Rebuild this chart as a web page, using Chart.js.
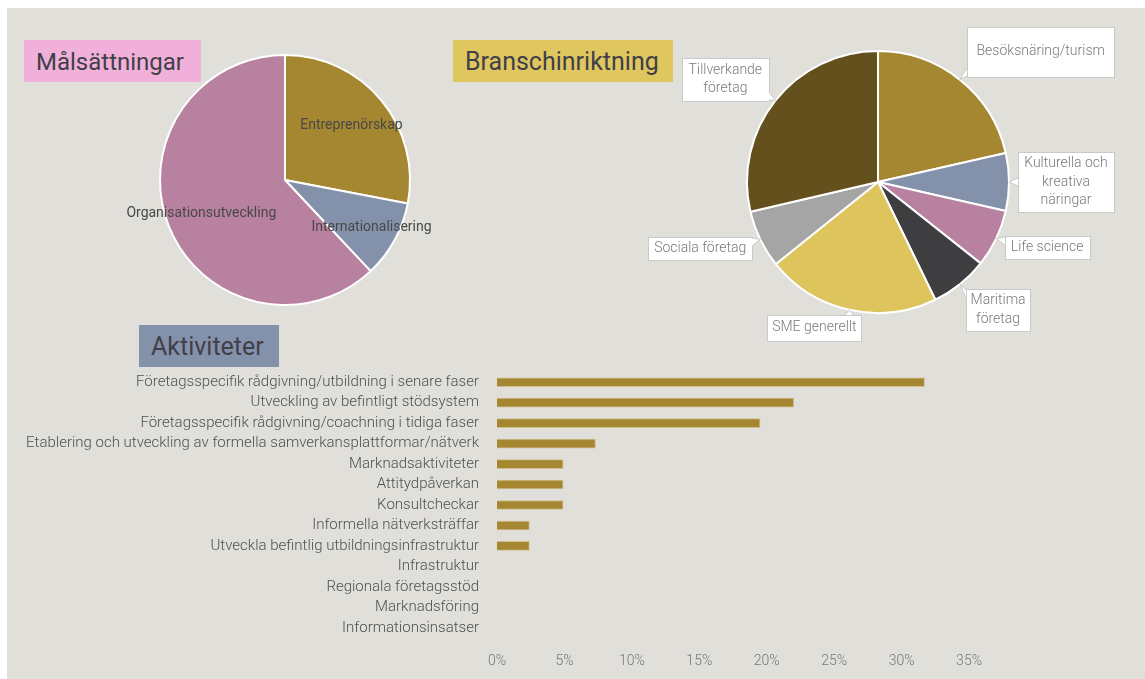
<!DOCTYPE html>
<html>
<head>
<meta charset="utf-8">
<script src="https://cdn.jsdelivr.net/npm/chart.js@4.4.0/dist/chart.umd.min.js"></script>
<style>
  body { margin: 0; background: #fff; width: 1145px; height: 679px; overflow: hidden; font-family: Roboto, sans-serif; }
  #panel { position: absolute; left: 7px; top: 8px; right: 0; bottom: 0; background: #e0dfda; }
  .title { position: absolute; height: 42px; line-height: 44px; font-size: 25px; color: #404048; padding-left: 12px; box-sizing: border-box; }
  canvas { position: absolute; }
</style>
</head>
<body>
<div id="panel"></div>
<div class="title" style="left:24px;top:40px;width:177px;background:#f0b0da;font-size:24px">Målsättningar</div>
<div class="title" style="left:453px;top:40px;width:220px;background:#dfc65e">Branschinriktning</div>
<div class="title" style="left:139px;top:325px;width:140px;background:#8491ab">Aktiviteter</div>
<canvas id="goalPie" width="350" height="280" style="left:100px;top:40px"></canvas>
<canvas id="branchPie" width="505" height="335" style="left:640px;top:15px"></canvas>
<canvas id="activityBar" width="997" height="334" style="left:0;top:345px"></canvas>
<script>
// Målsättningar (share, %)
const goalLabels = ["Entreprenörskap", "Internationalisering", "Organisationsutveckling"];
const goalValues = [28, 10, 62];
const goalColors = ["#a58631", "#8391ab", "#b7819f"];

// Branschinriktning (share, %)
const branchLabels = [
  "Besöksnäring/turism",
  ["Kulturella och", "kreativa", "näringar"],
  "Life science",
  ["Maritima", "företag"],
  "SME generellt",
  "Sociala företag",
  ["Tillverkande", "företag"]
];
const branchValues = [21.4, 7.1, 7.1, 7.1, 21.4, 7.1, 28.6];
const branchColors = ["#a58631", "#8391ab", "#b7819f", "#3e3e40", "#dec45c", "#a5a5a5", "#63501d"];

// Aktiviteter (share, %)
const activityLabels = [
  "Företagsspecifik rådgivning/utbildning i senare faser",
  "Utveckling av befintligt stödsystem",
  "Företagsspecifik rådgivning/coachning i tidiga faser",
  "Etablering och utveckling av formella samverkansplattformar/nätverk",
  "Marknadsaktiviteter",
  "Attitydpåverkan",
  "Konsultcheckar",
  "Informella nätverksträffar",
  "Utveckla befintlig utbildningsinfrastruktur",
  "Infrastruktur",
  "Regionala företagsstöd",
  "Marknadsföring",
  "Informationsinsatser"
];
const activityValues = [31.7, 22.0, 19.5, 7.3, 4.9, 4.9, 4.9, 2.4, 2.4, 0, 0, 0, 0];
const activityTicks = [0, 5, 10, 15, 20, 25, 30, 35];

Chart.defaults.font.family = "Roboto, sans-serif";
Chart.defaults.animation = false;

// labels drawn inside the slices of the first pie
const insideLabels = {
  id: "insideLabels",
  afterDatasetsDraw(chart, args, opts) {
    const ctx = chart.ctx;
    const meta = chart.getDatasetMeta(0);
    ctx.save();
    ctx.font = "14px Roboto";
    ctx.fillStyle = "#484848";
    ctx.textAlign = "center";
    ctx.textBaseline = "middle";
    meta.data.forEach((arc, i) => {
      const mid = (arc.startAngle + arc.endAngle) / 2;
      const r = arc.outerRadius * opts.radius[i];
      ctx.fillText(chart.data.labels[i], arc.x + Math.cos(mid) * r, arc.y + Math.sin(mid) * r);
    });
    ctx.restore();
  }
};

// white callout boxes for the second pie
const callouts = {
  id: "callouts",
  afterDatasetsDraw(chart, args, opts) {
    const ctx = chart.ctx;
    const meta = chart.getDatasetMeta(0);
    ctx.save();
    ctx.font = "300 14px Roboto";
    ctx.textAlign = "center";
    ctx.textBaseline = "middle";
    meta.data.forEach((arc, i) => {
      const mid = (arc.startAngle + arc.endAngle) / 2;
      const ax = arc.x + Math.cos(mid) * arc.outerRadius;
      const ay = arc.y + Math.sin(mid) * arc.outerRadius;
      const b = opts.boxes[i];
      const cx = ax + b.dx, cy = ay + b.dy;
      const x0 = Math.round(cx - b.w / 2), y0 = Math.round(cy - b.h / 2);
      ctx.fillStyle = "#fff";
      ctx.strokeStyle = "#c9c9c9";
      ctx.lineWidth = 1;
      ctx.fillRect(x0, y0, b.w, b.h);
      ctx.strokeRect(x0 + 0.5, y0 + 0.5, b.w, b.h);

      // tail
      const px = Math.min(Math.max(ax, x0), x0 + b.w);
      const py = Math.min(Math.max(ay, y0), y0 + b.h);
      let p1, p2;
      if (Math.abs(ax - px) >= Math.abs(ay - py)) {
        const y1 = Math.min(Math.max(py - 4, y0 + 1), y0 + b.h - 9);
        p1 = [px, y1]; p2 = [px, y1 + 8];
      } else {
        const x1 = Math.min(Math.max(px - 4, x0 + 1), x0 + b.w - 9);
        p1 = [x1, py]; p2 = [x1 + 8, py];
      }
      ctx.beginPath();
      ctx.moveTo(p1[0], p1[1]);
      ctx.lineTo(ax, ay);
      ctx.lineTo(p2[0], p2[1]);
      ctx.closePath();
      ctx.fill();
      ctx.beginPath();
      ctx.moveTo(p1[0], p1[1]);
      ctx.lineTo(ax, ay);
      ctx.lineTo(p2[0], p2[1]);
      ctx.stroke();

      const lines = [].concat(chart.data.labels[i]);
      ctx.fillStyle = "#7a7a7a";
      lines.forEach((t, k) => {
        ctx.fillText(t, cx, cy + (k - (lines.length - 1) / 2) * 18.5);
      });
    });
    ctx.restore();
  }
};

new Chart(document.getElementById("goalPie"), {
  type: "pie",
  data: {
    labels: goalLabels,
    datasets: [{ data: goalValues, backgroundColor: goalColors, borderColor: "#fff", borderWidth: 2, hoverOffset: 0 }]
  },
  options: {
    responsive: false,
    layout: { padding: { left: 59, right: 39, top: 14, bottom: 14 } },
    plugins: {
      legend: { display: false },
      tooltip: { enabled: false },
      insideLabels: { radius: [0.69, 0.79, 0.72] }
    }
  },
  plugins: [insideLabels]
});

new Chart(document.getElementById("branchPie"), {
  type: "pie",
  data: {
    labels: branchLabels,
    datasets: [{ data: branchValues, backgroundColor: branchColors, borderColor: "#fff", borderWidth: 2, hoverOffset: 0 }]
  },
  options: {
    responsive: false,
    layout: { padding: { left: 106, right: 135, top: 35, bottom: 36 } },
    plugins: {
      legend: { display: false },
      tooltip: { enabled: false },
      callouts: {
        boxes: [
          { dx: 81, dy: -28, w: 147, h: 50 },
          { dx: 57, dy: 0, w: 96, h: 60 },
          { dx: 51, dy: 9, w: 85, h: 23 },
          { dx: 38, dy: 26, w: 64, h: 42 },
          { dx: -35, dy: 18, w: 94, h: 26 },
          { dx: -60, dy: 9, w: 104, h: 23 },
          { dx: -50, dy: -21, w: 87, h: 43 }
        ]
      }
    }
  },
  plugins: [callouts]
});

new Chart(document.getElementById("activityBar"), {
  type: "bar",
  data: {
    labels: activityLabels,
    datasets: [{ data: activityValues, backgroundColor: "#a58631", borderColor: "rgba(205,185,130,0.9)", borderWidth: 1, barThickness: 9 }]
  },
  options: {
    indexAxis: "y",
    responsive: false,
    layout: { padding: { left: 0, right: 20, top: 0, bottom: 0 } },
    plugins: { legend: { display: false }, tooltip: { enabled: false } },
    scales: {
      x: {
        min: 0,
        max: 35,
        afterBuildTicks: s => { s.ticks = activityTicks.map(v => ({ value: v })); },
        ticks: { callback: v => v + "%", color: "#777", font: { size: 14, weight: "300" }, padding: 15 },
        grid: { display: false, drawTicks: false },
        border: { display: false },
        afterFit: s => { s.height = 41; }
      },
      y: {
        ticks: { color: "#505050", font: { size: 15, weight: "300" }, padding: 18, autoSkip: false },
        grid: { display: false, drawTicks: false },
        border: { display: false },
        afterFit: s => { s.width = 497; }
      }
    }
  }
});
</script>
</body>
</html>
